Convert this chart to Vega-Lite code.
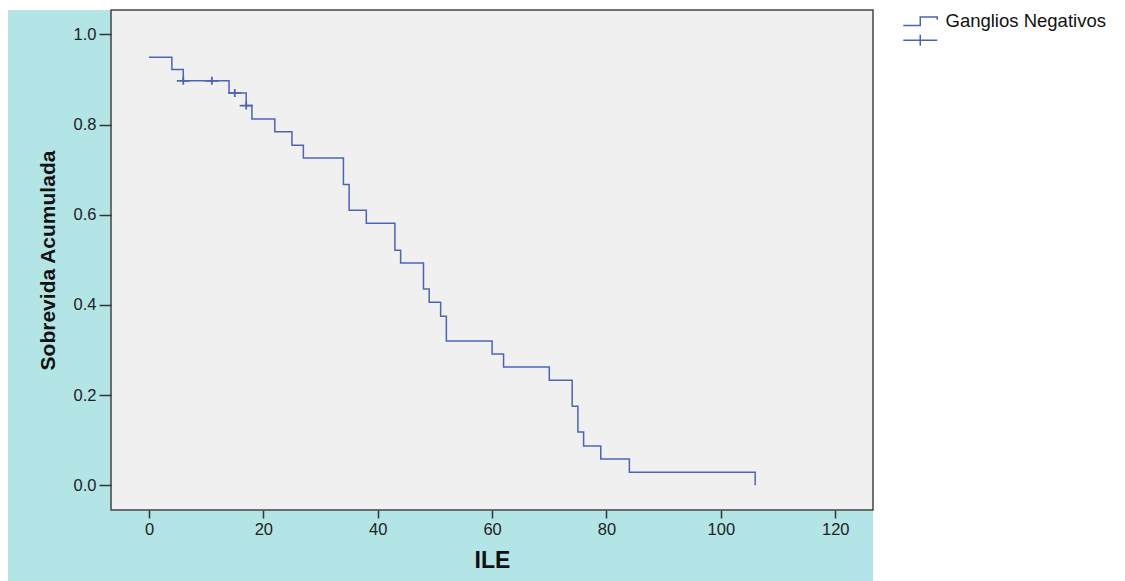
{
  "$schema": "https://vega.github.io/schema/vega-lite/v6.json",
  "width": 762,
  "height": 500,
  "autosize": {"type": "none"},
  "padding": {"left": 111, "top": 10, "right": 252, "bottom": 71},
  "background": "white",
  "config": {
    "view": {"stroke": null},
    "font": "Liberation Sans",
    "axis": {
      "grid": false,
      "domain": false,
      "labelFont": "Liberation Sans",
      "labelColor": "#222222",
      "labelFontSize": 16.5,
      "tickColor": "#333333",
      "tickWidth": 1.5,
      "titleFont": "Liberation Sans",
      "titleColor": "#111111",
      "titleFontWeight": "bold"
    },
    "axisX": {"tickSize": 8, "labelPadding": 3, "titleFontSize": 23, "titlePadding": 12},
    "axisY": {"tickSize": 12, "labelPadding": 3, "titleFontSize": 21, "titlePadding": 15}
  },
  "datasets": {
    "km": [
      {"t": 0, "s": 0.949, "serie": "Ganglios Negativos"},
      {"t": 4, "s": 0.922, "serie": "Ganglios Negativos"},
      {"t": 6, "s": 0.897, "serie": "Ganglios Negativos"},
      {"t": 14, "s": 0.870, "serie": "Ganglios Negativos"},
      {"t": 17, "s": 0.842, "serie": "Ganglios Negativos"},
      {"t": 18, "s": 0.812, "serie": "Ganglios Negativos"},
      {"t": 22, "s": 0.784, "serie": "Ganglios Negativos"},
      {"t": 25, "s": 0.754, "serie": "Ganglios Negativos"},
      {"t": 27, "s": 0.726, "serie": "Ganglios Negativos"},
      {"t": 34, "s": 0.667, "serie": "Ganglios Negativos"},
      {"t": 35, "s": 0.610, "serie": "Ganglios Negativos"},
      {"t": 38, "s": 0.581, "serie": "Ganglios Negativos"},
      {"t": 43, "s": 0.521, "serie": "Ganglios Negativos"},
      {"t": 44, "s": 0.493, "serie": "Ganglios Negativos"},
      {"t": 48, "s": 0.435, "serie": "Ganglios Negativos"},
      {"t": 49, "s": 0.406, "serie": "Ganglios Negativos"},
      {"t": 51, "s": 0.375, "serie": "Ganglios Negativos"},
      {"t": 52, "s": 0.320, "serie": "Ganglios Negativos"},
      {"t": 60, "s": 0.291, "serie": "Ganglios Negativos"},
      {"t": 62, "s": 0.262, "serie": "Ganglios Negativos"},
      {"t": 70, "s": 0.233, "serie": "Ganglios Negativos"},
      {"t": 74, "s": 0.175, "serie": "Ganglios Negativos"},
      {"t": 75, "s": 0.118, "serie": "Ganglios Negativos"},
      {"t": 76, "s": 0.087, "serie": "Ganglios Negativos"},
      {"t": 79, "s": 0.058, "serie": "Ganglios Negativos"},
      {"t": 84, "s": 0.029, "serie": "Ganglios Negativos"},
      {"t": 106, "s": 0.0, "serie": "Ganglios Negativos"}
    ],
    "cens": [
      {"t": 6, "s": 0.897, "serie": "Censurado"},
      {"t": 11, "s": 0.897, "serie": "Censurado"},
      {"t": 15, "s": 0.870, "serie": "Censurado"},
      {"t": 17, "s": 0.842, "serie": "Censurado"}
    ]
  },
  "layer": [
    {
      "data": {"values": [{}]},
      "mark": {"type": "rect", "fill": "#b3e5e6"},
      "encoding": {
        "x": {"datum": -24.65, "type": "quantitative", "title": "ILE",
              "scale": {"domain": [-6.64, 126.6], "nice": false, "zero": false},
              "axis": {"values": [0, 20, 40, 60, 80, 100, 120], "zindex": 2}},
        "x2": {"datum": 126.6},
        "y": {"datum": -0.3, "type": "quantitative", "title": "Sobrevida Acumulada",
              "scale": {"domain": [-0.055, 1.054], "nice": false, "zero": false},
              "axis": {"values": [0, 0.2, 0.4, 0.6, 0.8, 1.0], "format": ".1f", "zindex": 2}},
        "y2": {"datum": 1.054}
      }
    },
    {
      "data": {"values": [{}]},
      "mark": {"type": "rect", "fill": "#f0f0f0", "stroke": "#444444", "strokeWidth": 1.5},
      "encoding": {
        "x": {"datum": -6.64, "type": "quantitative", "title": "ILE",
              "axis": {"values": [0, 20, 40, 60, 80, 100, 120], "zindex": 2}},
        "x2": {"datum": 126.6},
        "y": {"datum": -0.055, "type": "quantitative", "title": "Sobrevida Acumulada",
              "axis": {"values": [0, 0.2, 0.4, 0.6, 0.8, 1.0], "format": ".1f", "zindex": 2}},
        "y2": {"datum": 1.054}
      }
    },
    {
      "data": {"name": "km"},
      "mark": {"type": "line", "interpolate": "step-after", "strokeWidth": 1.5},
      "encoding": {
        "x": {"field": "t", "type": "quantitative", "title": "ILE",
              "axis": {"values": [0, 20, 40, 60, 80, 100, 120], "zindex": 2}},
        "y": {"field": "s", "type": "quantitative", "title": "Sobrevida Acumulada",
              "axis": {"values": [0, 0.2, 0.4, 0.6, 0.8, 1.0], "format": ".1f", "zindex": 2}},
        "color": {
          "field": "serie", "type": "nominal",
          "scale": {"domain": ["Ganglios Negativos", "Censurado"], "range": ["#4c64b8", "#4c64b8"]},
          "legend": {
            "title": null, "orient": "none", "legendX": 800, "legendY": 2,
            "symbolSize": 256, "symbolStrokeWidth": 1.5, "symbolFillColor": "transparent",
            "labelFontSize": 18.5, "labelColor": "#111111", "labelOffset": 16, "rowPadding": 0,
            "labelLimit": 400,
            "labelFont": "Liberation Sans",
            "labelExpr": "datum.value == 'Censurado' ? '' : datum.value",
            "encode": {"symbols": {"update": {"shape": {"signal": "datum.value == 'Censurado' ? 'M-2.125,0H2.125M0,-0.69V0.69' : 'M-2.125,0.53H0V-0.54H2.125V-0.19'"}}}}
          }
        }
      }
    },
    {
      "data": {"name": "cens"},
      "mark": {"type": "point", "shape": "M-1,0H1M0,-0.62V0.62", "size": 169, "strokeWidth": 1.8, "filled": false, "opacity": 1},
      "encoding": {
        "x": {"field": "t", "type": "quantitative", "title": "ILE",
              "axis": {"values": [0, 20, 40, 60, 80, 100, 120], "zindex": 2}},
        "y": {"field": "s", "type": "quantitative", "title": "Sobrevida Acumulada",
              "axis": {"values": [0, 0.2, 0.4, 0.6, 0.8, 1.0], "format": ".1f", "zindex": 2}},
        "color": {"field": "serie", "type": "nominal"}
      }
    }
  ]
}
